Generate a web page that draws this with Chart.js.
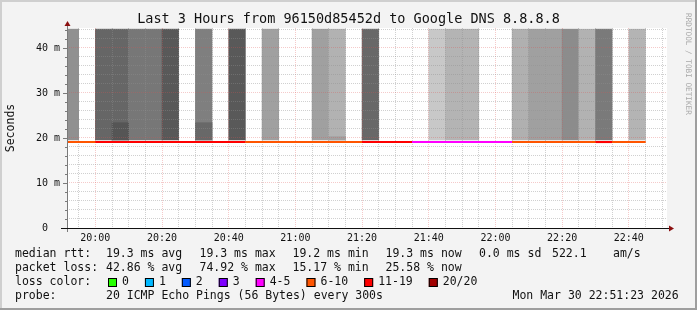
<!DOCTYPE html>
<html>
<head>
<meta charset="utf-8">
<script src="https://cdn.jsdelivr.net/npm/chart.js@4"></script>
<style>
  html, body { margin: 0; padding: 0; background: #fff; }
  canvas { display: block; }
</style>
</head>
<body>
<canvas id="smoke" width="697" height="310"></canvas>
<script>
// 5 minute steps, minutes relative to 20:00 (start of each step)
const stepStart = [-10, -5, 0, 5, 10, 15, 20, 25, 30, 35, 40, 45, 50, 55, 60, 65, 70, 75, 80, 85, 90, 95, 100, 105, 110, 115, 120, 125, 130, 135, 140, 145, 150, 155, 160];
// median rtt per step (ms)
const medianRtt = [19.1, 19.1, 19.1, 19.1, 19.1, 19.1, 19.1, 19.1, 19.1, 19.1, 19.1, 19.1, 19.1, 19.1, 19.1, 19.1, 19.1, 19.1, 19.1, 19.1, 19.1, 19.1, 19.1, 19.1, 19.1, 19.1, 19.1, 19.1, 19.1, 19.1, 19.1, 19.1, 19.1, 19.1, 19.1];
// lost pings out of 20
const lossCount = [9, 8, 14, 15, 13, 13, 16, 12, 14, 12, 16, 9, 8, 7, 7, 8, 7, 7, 14, 12, 11, 5, 4, 5, 5, 5, 5, 7, 8, 8, 10, 7, 11, 6, 6];
// smoke: range and shade per step (null = no smoke)
const smokeLow = [19.55, null, 19.55, 19.55, 19.55, 19.55, 19.55, null, 19.55, null, 19.55, null, 19.55, null, null, 19.55, 19.55, null, 19.55, null, null, null, 19.55, 19.55, 19.55, null, null, 19.55, 19.55, 19.55, 19.55, 19.55, 19.55, null, 19.55];
const smokeHigh = [44.2, null, 44.2, 44.2, 44.2, 44.2, 44.2, null, 44.2, null, 44.2, null, 44.2, null, null, 44.2, 44.2, null, 44.2, null, null, null, 44.2, 44.2, 44.2, null, null, 44.2, 44.2, 44.2, 44.2, 44.2, 44.2, null, 44.2];
const smokeShade = ['#909090', null, '#666666', '#666666', '#777777', '#777777', '#595959', null, '#7f7f7f', null, '#595959', null, '#a0a0a0', null, null, '#a0a0a0', '#b2b2b2', null, '#686868', null, null, null, '#c8c8c8', '#b4b4b4', '#b4b4b4', null, null, '#b0b0b0', '#a0a0a0', '#a0a0a0', '#8c8c8c', '#b2b2b2', '#7a7a7a', null, '#b4b4b4'];
// denser lower part of the smoke
const denseHigh = [null, null, null, 23.4, null, null, null, null, 23.4, null, null, null, null, null, null, null, 20.3, null, null, null, null, null, null, null, null, null, null, null, null, null, null, null, null, null, null];
const denseShade = [null, null, null, '#555555', null, null, null, null, '#686868', null, null, null, null, null, null, null, '#a0a0a0', null, null, null, null, null, null, null, null, null, null, null, null, null, null, null, null, null, null];

const xTickLabels = ['20:00', '20:20', '20:40', '21:00', '21:20', '21:40', '22:00', '22:20', '22:40'];
const yTickValues = [0, 10, 20, 30, 40];
const yTickLabels = ['0  ', '10 m', '20 m', '30 m', '40 m'];

const lossBins = ['0', '1', '2', '3', '4-5', '6-10', '11-19', '20/20'];
const lossUpper = [0, 1, 2, 3, 5, 10, 19, 20];
const lossColors = ['#26ff00', '#00b8ff', '#0059ff', '#7e00ff', '#ff00ff', '#ff5500', '#ff0000', '#a10000'];

const title = 'Last 3 Hours from 96150d85452d to Google DNS 8.8.8.8';
const rttRow = ['median rtt:', '19.3 ms avg', '19.3 ms max', '19.2 ms min', '19.3 ms now', '0.0 ms sd', '522.1', 'am/s'];
const lossRow = ['packet loss:', '42.86 % avg', '74.92 % max', '15.17 % min', '25.58 % now'];
const probeRow = ['probe:', '20 ICMP Echo Pings (56 Bytes) every 300s'];
const stamp = 'Mon Mar 30 22:51:23 2026';

function lossColor(n) {
  for (let i = 0; i < lossUpper.length; i++) {
    if (n <= lossUpper[i]) return lossColors[i];
  }
  return lossColors[lossColors.length - 1];
}

const smokeData = stepStart.map((s, i) => ({ x: s + 2.5, y: smokeHigh[i] == null ? null : [smokeLow[i], smokeHigh[i]] }));
const denseData = stepStart.map((s, i) => ({ x: s + 2.5, y: denseHigh[i] == null ? null : [smokeLow[i], denseHigh[i]] }));
const medianData = stepStart.map((s, i) => ({ x: s, y: medianRtt[i] }));
medianData.push({ x: stepStart[stepStart.length - 1] + 5, y: medianRtt[medianRtt.length - 1] });

const mono = '"DejaVu Sans Mono", "Liberation Mono", monospace';
const minorGrid = 'rgba(143,143,143,0.42)';
const majorGrid = 'rgba(222,79,79,0.3)';

function gridColor(every) {
  return c => (c.tick && c.tick.value % every === 0 ? majorGrid : minorGrid);
}

const decor = {
  id: 'decor',
  beforeDraw(chart) {
    const { ctx, chartArea: a, width, height } = chart;
    ctx.save();
    ctx.fillStyle = '#f3f3f3';
    ctx.fillRect(0, 0, width, height);
    ctx.fillStyle = '#cfcfcf';
    ctx.fillRect(0, 0, width, 2);
    ctx.fillRect(0, 0, 2, height);
    ctx.fillStyle = '#9e9e9e';
    ctx.fillRect(0, height - 2, width, 2);
    ctx.fillRect(width - 2, 0, 2, height);
    ctx.fillStyle = '#ffffff';
    ctx.fillRect(a.left, a.top, a.right - a.left, a.bottom - a.top);
    ctx.restore();
  },
  afterDraw(chart) {
    const { ctx, chartArea: a } = chart;
    const ys = chart.scales.y;
    ctx.save();
    // median line again, above the grid
    ctx.save();
    ctx.beginPath();
    ctx.rect(a.left, a.top, a.right - a.left, a.bottom - a.top);
    ctx.clip();
    chart.getDatasetMeta(0).controller.draw();
    ctx.restore();

    // y axis + ticks
    ctx.strokeStyle = '#7a7a7a';
    ctx.lineWidth = 1;
    ctx.beginPath();
    ctx.moveTo(a.left + 0.5, a.bottom + 4);
    ctx.lineTo(a.left + 0.5, a.top - 3);
    ys.ticks.forEach(t => {
      const y = Math.round(ys.getPixelForValue(t.value)) + 0.5;
      ctx.moveTo(a.left - (t.value % 10 === 0 ? 4 : 2), y);
      ctx.lineTo(a.left, y);
    });
    ctx.stroke();
    // x axis
    ctx.strokeStyle = '#111';
    ctx.beginPath();
    ctx.moveTo(a.left - 6, a.bottom + 0.5);
    ctx.lineTo(a.right + 2, a.bottom + 0.5);
    ctx.stroke();
    // arrows
    ctx.fillStyle = '#8b1010';
    ctx.beginPath();
    ctx.moveTo(a.left + 0.5, a.top - 7);
    ctx.lineTo(a.left + 3.5, a.top - 2);
    ctx.lineTo(a.left - 2.5, a.top - 2);
    ctx.closePath();
    ctx.fill();
    ctx.beginPath();
    ctx.moveTo(a.right + 7, a.bottom + 0.5);
    ctx.lineTo(a.right + 2, a.bottom - 2.5);
    ctx.lineTo(a.right + 2, a.bottom + 3.5);
    ctx.closePath();
    ctx.fill();

    // title
    ctx.fillStyle = '#111';
    ctx.textBaseline = 'middle';
    ctx.textAlign = 'center';
    ctx.font = '13.5px ' + mono;
    ctx.fillText(title, 348.5, 19.5);

    // watermark
    ctx.save();
    ctx.translate(687.5, 13);
    ctx.rotate(Math.PI / 2);
    ctx.textAlign = 'left';
    ctx.fillStyle = '#a8a8a8';
    ctx.font = '7.7px ' + mono;
    ctx.fillText('RRDTOOL / TOBI OETIKER', 0, 0);
    ctx.restore();

    // legend
    ctx.textAlign = 'left';
    ctx.fillStyle = '#111';
    ctx.font = '11.5px ' + mono;
    const cols = [15, 106, 199.5, 292.5, 385.5, 479, 552, 613];
    const rowY = [254.5, 268.5, 282.5, 296.5];
    rttRow.forEach((s, i) => ctx.fillText(s, cols[i], rowY[0]));
    lossRow.forEach((s, i) => ctx.fillText(s, cols[i], rowY[1]));
    ctx.fillText('loss color:', cols[0], rowY[2]);
    let x = 108;
    lossBins.forEach((s, i) => {
      ctx.fillStyle = lossColors[i];
      ctx.fillRect(x, 278, 9, 9);
      ctx.strokeStyle = '#000';
      ctx.strokeRect(x + 0.5, 278.5, 8, 8);
      ctx.fillStyle = '#111';
      ctx.fillText(s, x + 14, rowY[2]);
      x += 14 + ctx.measureText(s).width + 16;
    });
    ctx.fillText(probeRow[0], cols[0], rowY[3]);
    ctx.fillText(probeRow[1], cols[1], rowY[3]);
    ctx.fillText(stamp, 512.5, rowY[3]);
    ctx.restore();
  }
};

new Chart(document.getElementById('smoke'), {
  data: {
    datasets: [
      {
        type: 'line',
        data: medianData,
        stepped: true,
        borderWidth: 2,
        pointRadius: 0,
        borderCapStyle: 'butt',
        clip: 0,
        segment: { borderColor: c => lossColor(lossCount[c.p0DataIndex]) }
      },
      {
        type: 'bar',
        data: denseData,
        backgroundColor: denseShade,
        grouped: false,
        barPercentage: 1,
        categoryPercentage: 1,
        clip: 0
      },
      {
        type: 'bar',
        data: smokeData,
        backgroundColor: smokeShade,
        grouped: false,
        barPercentage: 1,
        categoryPercentage: 1,
        clip: 0
      }
    ]
  },
  options: {
    responsive: false,
    animation: false,
    devicePixelRatio: 1,
    layout: { padding: { left: 0, top: 28, right: 30, bottom: 62 } },
    plugins: { legend: { display: false }, tooltip: { enabled: false } },
    scales: {
      x: {
        type: 'linear',
        min: -8.5,
        max: 171.45,
        offset: false,
        afterFit: s => { s.height = 20; },
        border: { display: false, dash: [1, 1] },
        grid: { offset: false, z: 1, drawTicks: false, color: gridColor(20) },
        ticks: {
          stepSize: 5,
          includeBounds: false,
          autoSkip: false,
          maxRotation: 0,
          padding: 4,
          color: '#111',
          font: { family: mono, size: 10 },
          callback: v => (v % 20 === 0 ? xTickLabels[v / 20] : '')
        }
      },
      y: {
        min: 0,
        max: 44.44,
        afterFit: s => { s.width = 67; },
        border: { display: false, dash: [1, 1] },
        grid: { z: 1, drawTicks: false, color: gridColor(10) },
        title: {
          display: true,
          text: 'Seconds',
          color: '#111',
          font: { family: mono, size: 11.5 },
          padding: { top: 4, bottom: 0 }
        },
        ticks: {
          stepSize: 2,
          includeBounds: false,
          autoSkip: false,
          padding: 7,
          color: '#111',
          font: { family: mono, size: 10 },
          callback: v => {
            const i = yTickValues.indexOf(v);
            return i < 0 ? '' : yTickLabels[i];
          }
        }
      }
    }
  },
  plugins: [decor]
});
</script>
</body>
</html>
